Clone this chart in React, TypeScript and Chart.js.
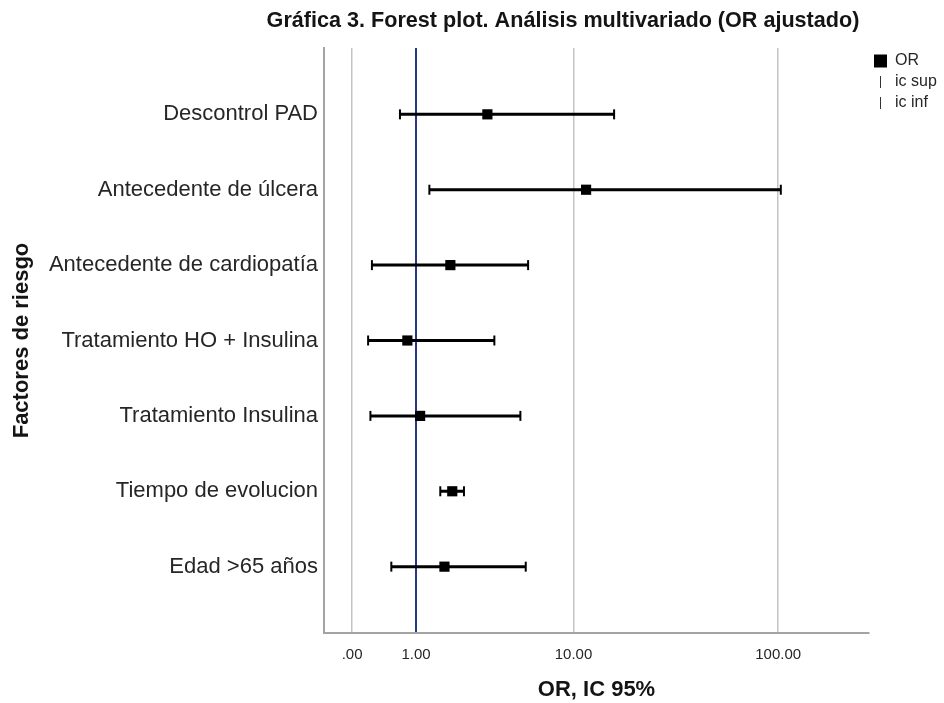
import React, { useEffect, useRef } from 'react';
import { Chart, registerables } from 'chart.js';

Chart.register(...registerables);

const TITLE = 'Gráfica 3. Forest plot. Análisis multivariado (OR ajustado)';
const X_TITLE = 'OR, IC 95%';
const Y_TITLE = 'Factores de riesgo';

const CATEGORIES = [
  'Descontrol PAD',
  'Antecedente de úlcera',
  'Antecedente de cardiopatía',
  'Tratamiento HO + Insulina',
  'Tratamiento Insulina',
  'Tiempo de evolucion',
  'Edad >65 años',
];
const OR_VALUES = [3.33, 11.61, 1.9, 0.82, 1.09, 1.96, 1.72];
const IC_INF = [0.68, 1.31, 0.24, 0.19, 0.22, 1.6, 0.53];
const IC_SUP = [16.08, 102.9, 5.73, 3.67, 5.19, 2.36, 5.56];

const SERIES_NAMES = ['OR', 'ic sup', 'ic inf'];

const X_TICK_VALUES = [0, 1, 10, 100];
const X_TICK_LABELS = ['.00', '1.00', '10.00', '100.00'];
const X_MIN = -0.355;
const X_MAX = 269;
const REF_VALUE = 1;

const FONT = '"Liberation Sans", Arial, Helvetica, sans-serif';
const TEXT = '#262626';
const NAVY = '#22398a';

// SPSS "safe log" axis: sign(v) * log10(1 + |v|)
const safeLog = (v: number) => Math.sign(v) * Math.log10(1 + Math.abs(v));

const titlePlugin = {
  id: 'customTitle',
  afterDraw(chart: any) {
    const { ctx } = chart;
    ctx.save();
    ctx.font = `bold 21.6px ${FONT}`;
    ctx.fillStyle = '#141414';
    ctx.textAlign = 'center';
    ctx.textBaseline = 'middle';
    ctx.fillText(TITLE, 563, 21);
    ctx.restore();
  },
};

export default function App() {
  const ref = useRef<HTMLCanvasElement | null>(null);

  useEffect(() => {
    if (!ref.current) return;

    const capIcon = document.createElement('canvas');
    capIcon.width = 3;
    capIcon.height = 12;
    const cctx = capIcon.getContext('2d');
    if (cctx) {
      cctx.fillStyle = '#333333';
      cctx.fillRect(1, 0, 1, 12);
    }

    const lineData: any[] = [];
    CATEGORIES.forEach((_, i) => {
      lineData.push({ x: safeLog(IC_INF[i]), y: i });
      lineData.push({ x: safeLog(IC_SUP[i]), y: i });
      lineData.push({ x: null, y: null });
    });

    const chart = new Chart(ref.current, {
      type: 'scatter',
      data: {
        datasets: [
          {
            label: SERIES_NAMES[0],
            data: OR_VALUES.map((v, i) => ({ x: safeLog(v), y: i })),
            pointStyle: 'rect',
            pointRadius: 7.2,
            pointHoverRadius: 7.2,
            backgroundColor: '#000000',
            borderColor: '#000000',
            borderWidth: 0,
            order: 0,
          },
          {
            label: SERIES_NAMES[1],
            data: IC_SUP.map((v, i) => ({ x: safeLog(v), y: i })),
            pointStyle: 'line',
            rotation: 90,
            pointRadius: 5,
            pointHoverRadius: 5,
            borderColor: '#000000',
            backgroundColor: '#000000',
            borderWidth: 2,
            order: 1,
          },
          {
            label: SERIES_NAMES[2],
            data: IC_INF.map((v, i) => ({ x: safeLog(v), y: i })),
            pointStyle: 'line',
            rotation: 90,
            pointRadius: 5,
            pointHoverRadius: 5,
            borderColor: '#000000',
            backgroundColor: '#000000',
            borderWidth: 2,
            order: 2,
          },
          {
            label: 'ic',
            data: lineData,
            showLine: true,
            spanGaps: false,
            pointRadius: 0,
            pointHoverRadius: 0,
            borderColor: '#000000',
            borderWidth: 3,
            order: 3,
          } as any,
        ],
      },
      options: {
        animation: false,
        responsive: false,
        layout: { padding: { top: 48, left: 0, right: 0, bottom: 0 } },
        plugins: {
          title: { display: false },
          tooltip: { enabled: false },
          legend: {
            position: 'right',
            align: 'start',
            fullSize: false,
            maxWidth: 75,
            labels: {
              usePointStyle: true,
              boxWidth: 13,
              boxHeight: 13,
              padding: 5,
              color: TEXT,
              font: { size: 16, family: FONT },
              generateLabels: (c: any) => {
                const items = (Chart.defaults.plugins.legend.labels as any).generateLabels(c);
                return items
                  .filter((it: any) => it.datasetIndex !== 3)
                  .map((it: any) => {
                    if (it.datasetIndex === 1 || it.datasetIndex === 2) {
                      it.pointStyle = capIcon;
                      it.rotation = 0;
                    }
                    return it;
                  });
              },
            },
          },
        },
        scales: {
          x: {
            type: 'linear',
            min: safeLog(X_MIN),
            max: safeLog(X_MAX),
            afterFit: (s: any) => {
              s.height = 70;
            },
            afterBuildTicks: (s: any) => {
              s.ticks = X_TICK_VALUES.map((v) => ({ value: safeLog(v) }));
            },
            ticks: {
              autoSkip: false,
              maxRotation: 0,
              padding: 13,
              color: TEXT,
              font: { size: 15, family: FONT },
              callback: (_v: any, idx: number) => X_TICK_LABELS[idx],
            },
            grid: {
              drawTicks: false,
              color: (ctx: any) => (X_TICK_VALUES[ctx.index] === REF_VALUE ? NAVY : '#c4c4c4'),
              lineWidth: (ctx: any) => (X_TICK_VALUES[ctx.index] === REF_VALUE ? 2 : 1.5),
            },
            border: { display: true, color: '#a3a3a3', width: 2 },
            title: {
              display: true,
              text: X_TITLE,
              color: '#141414',
              font: { size: 22, weight: 'bold', family: FONT },
              padding: { top: 0, bottom: 0 },
            },
          },
          y: {
            type: 'linear',
            reverse: true,
            min: -0.88,
            max: CATEGORIES.length - 1 + 0.88,
            afterFit: (s: any) => {
              s.width = 324;
            },
            afterBuildTicks: (s: any) => {
              s.ticks = CATEGORIES.map((_, i) => ({ value: i }));
            },
            ticks: {
              autoSkip: false,
              padding: 6,
              color: TEXT,
              font: { size: 22, family: FONT },
              callback: (v: any) => CATEGORIES[v as number],
            },
            grid: { display: false, drawTicks: false },
            border: { display: true, color: '#a3a3a3', width: 2 },
            title: {
              display: true,
              text: Y_TITLE,
              color: '#141414',
              font: { size: 22, weight: 'bold', family: FONT },
              padding: { top: 9, bottom: 0 },
            },
          },
        },
      } as any,
      plugins: [titlePlugin],
    });

    return () => chart.destroy();
  }, []);

  return (
    <div style={{ position: 'absolute', left: 0, top: 0, width: 944, height: 703, background: '#ffffff' }}>
      <canvas ref={ref} width={944} height={703} style={{ display: 'block' }} />
    </div>
  );
}
